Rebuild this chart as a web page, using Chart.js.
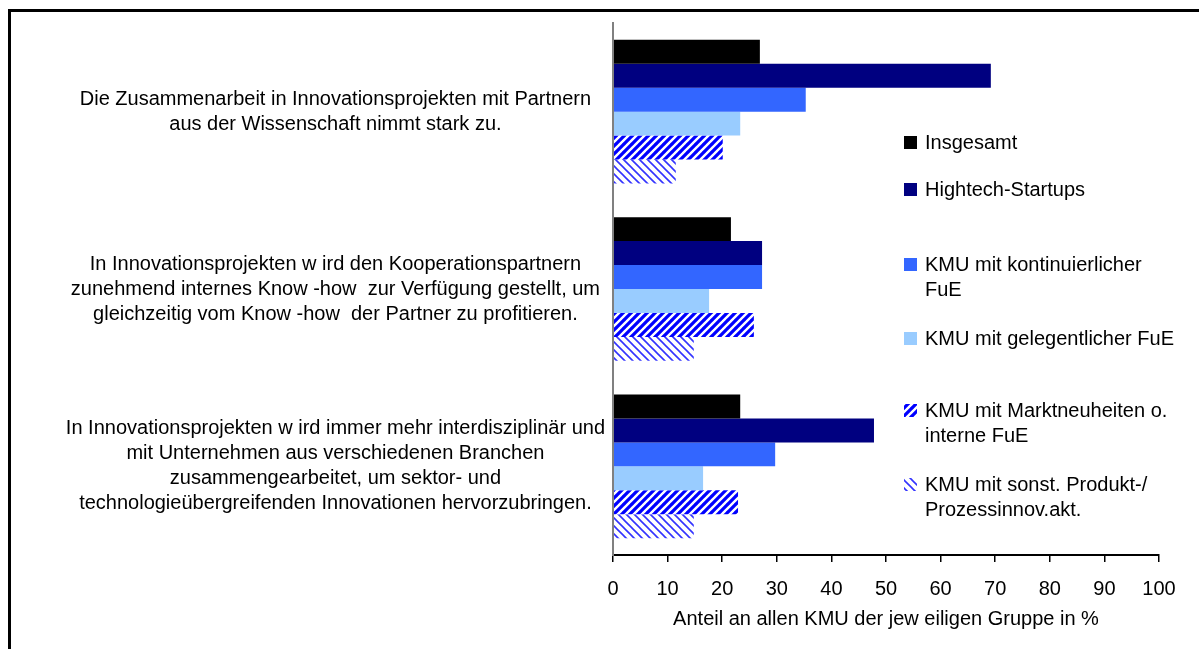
<!DOCTYPE html>
<html>
<head>
<meta charset="utf-8">
<script src="https://cdn.jsdelivr.net/npm/chart.js@4/dist/chart.umd.min.js"></script>
<style>
  html, body { margin: 0; padding: 0; background: #ffffff; }
  #wrap { width: 1199px; height: 649px; position: relative; }
</style>
</head>
<body>
<div id="wrap"><canvas id="c" width="1199" height="649"></canvas></div>
<script>
// Statements (y categories), one array entry per drawn line
const categories = [
  ['Die Zusammenarbeit in Innovationsprojekten mit Partnern',
   'aus der Wissenschaft nimmt stark zu.'],
  ['In Innovationsprojekten w ird den Kooperationspartnern',
   'zunehmend internes Know -how  zur Verfügung gestellt, um',
   'gleichzeitig vom Know -how  der Partner zu profitieren.'],
  ['In Innovationsprojekten w ird immer mehr interdisziplinär und',
   'mit Unternehmen aus verschiedenen Branchen',
   'zusammengearbeitet, um sektor- und',
   'technologieübergreifenden Innovationen hervorzubringen.']
];

// Series names (legend lines)
const seriesNames = [
  ['Insgesamt'],
  ['Hightech-Startups'],
  ['KMU mit kontinuierlicher', 'FuE'],
  ['KMU mit gelegentlicher FuE'],
  ['KMU mit Marktneuheiten o.', 'interne FuE'],
  ['KMU mit sonst. Produkt-/', 'Prozessinnov.akt.']
];

// Share of firms in % per statement
const insgesamt         = [26.9, 21.6, 23.3];
const hightechStartups  = [69.2, 27.3, 47.8];
const kmuKontinuierlich = [35.3, 27.3, 29.7];
const kmuGelegentlich   = [23.3, 17.6, 16.5];
const kmuMarktneuheiten = [20.1, 25.8, 22.9];
const kmuSonstige       = [11.5, 14.8, 14.8];

const xTicks = [0, 10, 20, 30, 40, 50, 60, 70, 80, 90, 100];
const xTitle = 'Anteil an allen KMU der jew eiligen Gruppe in %';

const FONT = "'Liberation Sans', Arial, sans-serif";

// 8x8 diagonal hatch tiles
function hatch(dir, lw, color) {
  const s = 8;
  const c = document.createElement('canvas');
  c.width = s; c.height = s;
  const g = c.getContext('2d');
  g.fillStyle = '#ffffff';
  g.fillRect(0, 0, s, s);
  g.strokeStyle = color;
  g.lineWidth = lw;
  g.beginPath();
  if (dir === 'up') {
    for (const k of [0, s, 2 * s]) { g.moveTo(k - s - 1, s + 1); g.lineTo(k + 1, -1); }
  } else {
    for (const k of [-s, 0, s]) { g.moveTo(k - 1, -1); g.lineTo(k + s + 1, s + 1); }
  }
  g.stroke();
  return g.createPattern(c, 'repeat');
}

const ctx = document.getElementById('c').getContext('2d');
const hatchUp = hatch('up', 3.2, '#0000ff');
const hatchDown = hatch('down', 1.6, '#3333ff');

const seriesValues = [insgesamt, hightechStartups, kmuKontinuierlich, kmuGelegentlich, kmuMarktneuheiten, kmuSonstige];
const seriesFills = ['#000000', '#000080', '#3366ff', '#99ccff', hatchUp, hatchDown];

const datasets = seriesValues.map((vals, i) => ({
  label: seriesNames[i].join(' '),
  legendLines: seriesNames[i],
  data: vals,
  backgroundColor: seriesFills[i],
  borderWidth: 0,
  categoryPercentage: 0.81,
  barPercentage: 1.0
}));

// Legend to the right of the bars, first-line centres of each entry
const legendRowY = [143, 190, 265, 339, 411, 485];
const legendPlugin = {
  id: 'sideLegend',
  afterDraw(chart) {
    const g = chart.ctx;
    g.save();
    g.font = '20px ' + FONT;
    g.textBaseline = 'middle';
    g.textAlign = 'left';
    chart.data.datasets.forEach((ds, i) => {
      const y = legendRowY[i];
      g.fillStyle = ds.backgroundColor;
      g.fillRect(904, y - 7, 13, 13);
      g.fillStyle = '#000000';
      ds.legendLines.forEach((line, j) => g.fillText(line, 925, y + j * 25));
    });
    g.restore();
  }
};

// Outer frame (top and left edges)
const framePlugin = {
  id: 'frame',
  afterDraw(chart) {
    const g = chart.ctx;
    g.save();
    g.fillStyle = '#000000';
    g.fillRect(8, 9, 1191, 3);
    g.fillRect(8, 9, 3, 640);
    g.restore();
  }
};

new Chart(ctx, {
  type: 'bar',
  data: { labels: categories, datasets },
  options: {
    indexAxis: 'y',
    responsive: false,
    animation: false,
    devicePixelRatio: 1,
    layout: { padding: { left: 20, right: 40, top: 23, bottom: 0 } },
    plugins: {
      legend: { display: false },
      tooltip: { enabled: false }
    },
    scales: {
      x: {
        type: 'linear',
        position: 'bottom',
        min: 0,
        max: 100,
        afterFit(s) { s.height = 94; },
        afterBuildTicks(s) { s.ticks = xTicks.map(v => ({ value: v })); },
        grid: { drawOnChartArea: false, drawTicks: true, tickLength: 7, color: '#000000', lineWidth: 1.5 },
        border: { display: true, color: '#000000', width: 2 },
        ticks: { font: { family: FONT, size: 20 }, color: '#000000', padding: 15, maxRotation: 0, autoSkip: false },
        title: {
          display: true,
          text: xTitle,
          color: '#000000',
          font: { family: FONT, size: 20 },
          padding: { top: 0, bottom: 18 }
        }
      },
      y: {
        afterFit(s) { s.width = 593; s.paddingTop = 0; s.paddingBottom = 0; },
        grid: { display: false, drawTicks: false },
        border: { display: true, color: '#808080', width: 2, z: 1 },
        ticks: {
          crossAlign: 'center',
          padding: 8,
          color: '#000000',
          font: { family: FONT, size: 20, lineHeight: 1.25 }
        }
      }
    }
  },
  plugins: [legendPlugin, framePlugin]
});
</script>
</body>
</html>
